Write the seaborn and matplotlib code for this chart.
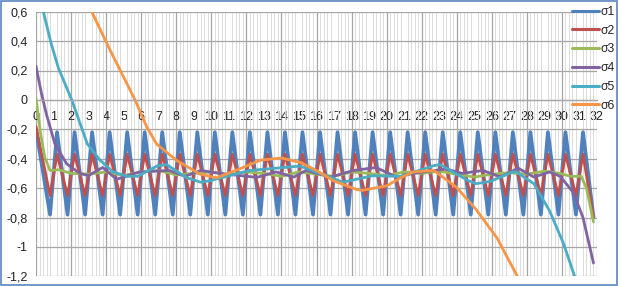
import matplotlib
matplotlib.use('agg')
import matplotlib.pyplot as plt
import seaborn as sns
import pandas as pd
from matplotlib.ticker import MultipleLocator
from matplotlib.patches import Rectangle

# sigma1 / sigma2: sawtooth-like series, read at every turning point
zig_x = [0, 0.8, 1.2, 1.8, 2.2, 2.8, 3.2, 3.8, 4.2, 4.8, 5.2, 5.8, 6.2, 6.8, 7.2, 7.8,
         8.2, 8.8, 9.2, 9.8, 10.2, 10.8, 11.2, 11.8, 12.2, 12.8, 13.2, 13.8, 14.2, 14.8,
         15.2, 15.8, 16.2, 16.8, 17.2, 17.8, 18.2, 18.8, 19.2, 19.8, 20.2, 20.8, 21.2,
         21.8, 22.2, 22.8, 23.2, 23.8, 24.2, 24.8, 25.2, 25.8, 26.2, 26.8, 27.2, 27.8,
         28.2, 28.8, 29.2, 29.8, 30.2, 30.8, 31.2, 31.8]
sig1 = [-0.2, -0.78, -0.22, -0.78, -0.22, -0.78, -0.22, -0.78, -0.22, -0.78, -0.22,
        -0.78, -0.22, -0.78, -0.22, -0.78, -0.22, -0.78, -0.22, -0.78, -0.22, -0.78,
        -0.22, -0.78, -0.22, -0.78, -0.22, -0.78, -0.22, -0.78, -0.22, -0.78, -0.22,
        -0.78, -0.22, -0.78, -0.22, -0.78, -0.22, -0.78, -0.22, -0.78, -0.22, -0.78,
        -0.22, -0.78, -0.22, -0.78, -0.22, -0.78, -0.22, -0.78, -0.22, -0.78, -0.22,
        -0.78, -0.22, -0.78, -0.22, -0.78, -0.22, -0.78, -0.22, -0.8]
sig2 = [-0.18, -0.65, -0.37, -0.65, -0.37, -0.65, -0.37, -0.65, -0.37, -0.65, -0.37,
        -0.65, -0.37, -0.65, -0.37, -0.65, -0.37, -0.65, -0.37, -0.65, -0.37, -0.65,
        -0.37, -0.65, -0.37, -0.65, -0.37, -0.65, -0.37, -0.65, -0.37, -0.65, -0.37,
        -0.65, -0.37, -0.65, -0.37, -0.65, -0.37, -0.65, -0.37, -0.65, -0.37, -0.65,
        -0.37, -0.65, -0.37, -0.65, -0.37, -0.65, -0.37, -0.65, -0.37, -0.65, -0.37,
        -0.65, -0.37, -0.65, -0.37, -0.65, -0.37, -0.65, -0.37, -0.8]

sig3_x = [0, 0.25, 0.5, 0.8, 1.3, 2, 3, 4, 5, 6, 7, 8, 9, 10, 11, 12, 13, 14, 15, 16,
          17, 18, 19, 20, 21, 22, 23, 24, 25, 26, 27, 28, 29, 29.9, 30.5, 31.1, 31.4, 31.8]
sig3 = [0.01, -0.22, -0.39, -0.48, -0.475, -0.5, -0.505, -0.49, -0.515, -0.49, -0.48,
        -0.51, -0.5, -0.49, -0.51, -0.49, -0.5, -0.52, -0.49, -0.505, -0.52, -0.49, -0.5,
        -0.515, -0.49, -0.5, -0.485, -0.505, -0.525, -0.505, -0.495, -0.505, -0.485,
        -0.5, -0.52, -0.52, -0.6, -0.83]

sig4_x = [0, 0.3, 0.6, 1.08, 1.75, 2.5, 3.0, 3.8, 4.6, 5.9, 7.6, 8.5, 9.4, 10.5, 12.6,
          13.7, 14.7, 15.4, 16.8, 18.1, 19.4, 20.6, 21.5, 23.4, 24.3, 25.5, 26.5, 27.5,
          28.4, 29.3, 29.9, 30.65, 31.2, 31.8]
sig4 = [0.23, 0.05, -0.1, -0.3, -0.435, -0.5, -0.515, -0.46, -0.54, -0.49, -0.48, -0.52,
        -0.48, -0.5, -0.527, -0.49, -0.525, -0.48, -0.525, -0.48, -0.46, -0.527, -0.5,
        -0.47, -0.5, -0.48, -0.525, -0.464, -0.525, -0.49, -0.52, -0.63, -0.8, -1.11]

sig5_x = [0, 0.42, 0.85, 1.27, 2.04, 2.93, 3.65, 4.4, 5.2, 5.8, 6.9, 7.45, 8.6, 9.4, 9.9,
          12.2, 15.06, 16.8, 17.5, 19.2, 20.8, 22.7, 23.05, 24.6, 25.1, 25.9, 27.2, 27.4,
          28.4, 29.3, 30.1, 30.75, 31.2]
sig5 = [0.85, 0.6, 0.39, 0.22, 0.0, -0.3, -0.41, -0.49, -0.52, -0.52, -0.45, -0.44, -0.53,
        -0.56, -0.55, -0.48, -0.45, -0.527, -0.56, -0.516, -0.52, -0.447, -0.44, -0.546,
        -0.57, -0.555, -0.49, -0.49, -0.57, -0.756, -0.98, -1.21, -1.45]

sig6_x = [0, 2.0, 3.18, 4.22, 5.65, 6.3, 6.88, 8.0, 9.36, 10.3, 11.6, 12.8, 14.0, 15.06,
          16.0, 16.96, 18.3, 18.6, 20.0, 20.8, 21.5, 22.7, 24.0, 25.1, 26.3, 27.5, 28.0]
sig6 = [1.6, 0.95, 0.6, 0.34, 0.0, -0.18, -0.3, -0.41, -0.505, -0.53, -0.47, -0.41,
        -0.395, -0.425, -0.48, -0.55, -0.61, -0.615, -0.585, -0.53, -0.49, -0.48, -0.596,
        -0.745, -0.94, -1.21, -1.32]

series = [("σ1", zig_x, sig1, "#4F81BD", 2.7),
          ("σ2", zig_x, sig2, "#C0504D", 2.0),
          ("σ3", sig3_x, sig3, "#9BBB59", 2.0),
          ("σ4", sig4_x, sig4, "#8064A2", 2.0),
          ("σ5", sig5_x, sig5, "#4BACC6", 2.0),
          ("σ6", sig6_x, sig6, "#F79646", 2.0)]

sns.set_theme(style="white")
plt.rcParams['font.family'] = ['Liberation Sans', 'DejaVu Sans']

fig = plt.figure(figsize=(6.19, 2.86), dpi=100)
ax = fig.add_axes([36 / 619, 1 - 276.3 / 286, (597 - 36) / 619, 264.6 / 286])

for name, xs, ys, col, lw in series:
    df = pd.DataFrame({'x': xs, 'y': ys})
    sns.lineplot(data=df, x='x', y='y', ax=ax, color=col, lw=lw, label=name,
                 estimator=None, sort=False)

ax.set_xlim(0, 32)
ax.set_ylim(-1.2, 0.6)

# grid: light minor lines every 0.2, darker every 2 in x; every 0.2 in y
ax.xaxis.set_major_locator(MultipleLocator(1))
ax.xaxis.set_minor_locator(MultipleLocator(0.2))
ax.grid(False)
ax.grid(which='minor', axis='x', color='#DCDCDC', lw=0.7, zorder=0)
for gx in range(0, 33, 2):
    ax.axvline(gx, color='#A6A6A6', lw=0.9, zorder=0.5)
yt = [-1.2, -1.0, -0.8, -0.6, -0.4, -0.2, 0, 0.2, 0.4, 0.6]
ax.set_yticks(yt)
ax.set_yticklabels([('%g' % v).replace('.', ',') for v in yt])
ax.grid(which='major', axis='y', color='#A6A6A6', lw=0.9)
ax.set_axisbelow(True)

for s in ['top', 'right', 'left']:
    ax.spines[s].set_visible(False)
ax.spines['bottom'].set_position(('data', 0))
ax.spines['bottom'].set_color('#A6A6A6')
ax.spines['bottom'].set_linewidth(0.9)
ax.set_xticks(range(0, 33))
ax.set_xticklabels([str(i) for i in range(0, 33)])
ax.tick_params(axis='x', which='both', length=0, pad=8, labelsize=9, labelcolor='#222222')
ax.tick_params(axis='y', length=0, pad=6, labelsize=9, labelcolor='#222222')
ax.set_xlabel('')
ax.set_ylabel('')

leg = ax.legend(loc='upper left', bbox_to_anchor=(572 / 619, 1 - 6 / 286),
                bbox_transform=fig.transFigure, frameon=False, fontsize=8.8,
                handlelength=2.2, handletextpad=0.1, labelspacing=0.55, borderpad=0,
                borderaxespad=0)
for line in leg.get_lines():
    line.set_linewidth(2.2)

fig.patches.append(Rectangle((0.002, 0.004), 0.995, 0.992, transform=fig.transFigure,
                             fill=False, ec='#5A86BF', lw=1.2))

fig.savefig('out.png', dpi=100)
